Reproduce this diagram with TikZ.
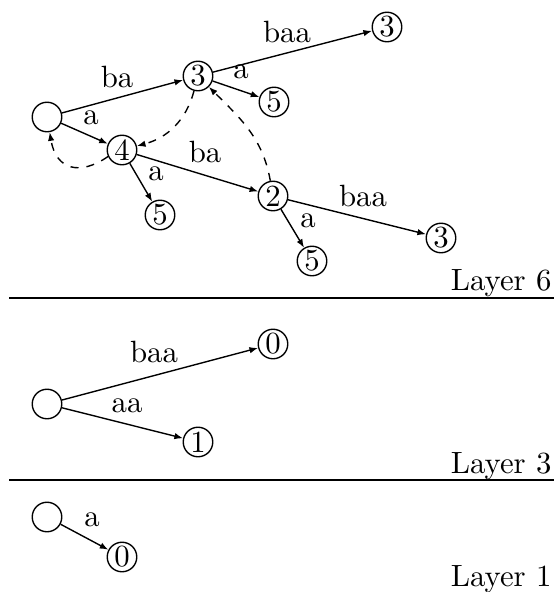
\documentclass[tikz,border=0pt]{standalone}
\usetikzlibrary{arrows.meta}
\begin{document}
\begin{tikzpicture}[x=0.325pt,y=-0.325pt,
  st/.style={circle,draw,line width=0.45pt,minimum size=9.6pt,inner sep=0pt},
  lbl/.style={inner sep=0pt},
  edge/.style={-{Latex[length=2.8pt,width=2.1pt]},line width=0.45pt},
  back/.style={edge,dash pattern=on 2.6pt off 2.6pt},
  layer/.style={anchor=base east,inner sep=0pt},
  sep/.style={line width=0.5pt}]
\useasboundingbox (0,0) rectangle (554,592);

% Layer 6
\node[st] (r6) at (47,117) {};
\node[st] (a3) at (198,76) {3};
\node[st] (a3t) at (387,27) {3};
\node[st] (a5) at (274,102) {5};
\node[st] (a4) at (122,150) {4};
\node[st] (a45) at (160,215) {5};
\node[st] (a2) at (273,196) {2};
\node[st] (a25) at (312,261) {5};
\node[st] (a23) at (441,238) {3};

\draw[edge] (r6) -- (a3);
\draw[edge] (r6) -- (a4);
\draw[edge] (a3) -- (a3t);
\draw[edge] (a3) -- (a5);
\draw[edge] (a4) -- (a45);
\draw[edge] (a4) -- (a2);
\draw[edge] (a2) -- (a25);
\draw[edge] (a2) -- (a23);

\draw[back] (a3) to[out=-105,in=15] (a4);
\draw[back] (a4.205) .. controls (80,176) and (56,170) .. (r6.-80);
\draw[back] (a2) to[out=100,in=-45] (a3);

\node[lbl] (l1) at (117,77) {ba};
\node[lbl] (l2) at (91,118) {a};
\node[lbl] (l3) at (241,72) {a};
\node[lbl] (l4) at (287,32) {baa};
\node[lbl] (l5) at (205,152) {ba};
\node[lbl] (l6) at (156,174) {a};
\node[lbl] (l7) at (363,196) {baa};
\node[lbl] (l8) at (308,221) {a};

\node[layer] (lay6) at (552,290) {Layer 6};
\coordinate (s1a) at (9,298);
\coordinate (s1b) at (554,298);
\draw[sep] (s1a) -- (s1b);

% Layer 3
\node[st] (r3) at (47,404) {};
\node[st] (b0) at (273,344) {0};
\node[st] (b1) at (198,442) {1};
\draw[edge] (r3) -- (b0);
\draw[edge] (r3) -- (b1);
\node[lbl] (l9) at (154,352) {baa};
\node[lbl] (l10) at (127,406) {aa};
\node[layer] (lay3) at (552,473) {Layer 3};
\coordinate (s2a) at (9,480);
\coordinate (s2b) at (554,480);
\draw[sep] (s2a) -- (s2b);

% Layer 1
\node[st] (r1) at (47,517) {};
\node[st] (c0) at (122,557) {0};
\draw[edge] (r1) -- (c0);
\node[lbl] (l11) at (92,520) {a};
\node[layer] (lay1) at (552,586) {Layer 1};
\end{tikzpicture}
\end{document}
